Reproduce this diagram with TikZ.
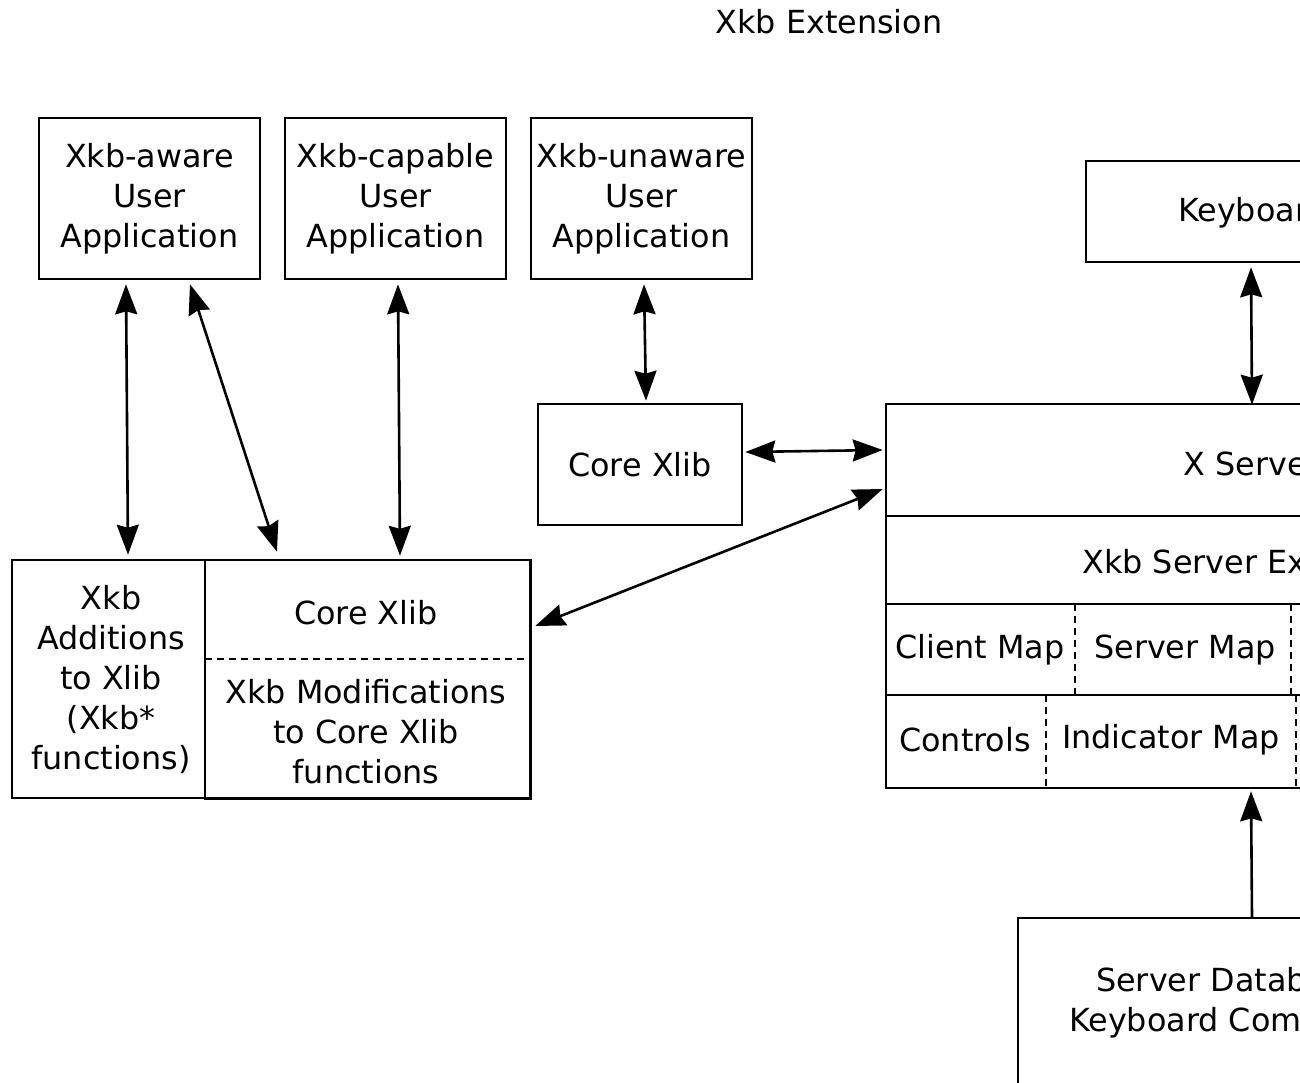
\documentclass[tikz,border=0pt]{standalone}
\usepackage{fontspec}
\setmainfont{DejaVu Sans}
\usetikzlibrary{arrows.meta}
\begin{document}
\begin{tikzpicture}[x=1pt,y=-1pt,
  lbl/.style={font=\fontsize{31.8pt}{40pt}\selectfont, inner sep=0pt, align=center},
  box/.style={draw, line width=2.6pt, inner sep=0pt, lbl},
  cell/.style={inner sep=0pt, lbl},
  solidline/.style={line width=2.6pt},
  dashline/.style={line width=2.4pt, dash pattern=on 7pt off 5pt},
  tip/.tip={Stealth[length=30pt,width=22pt,inset=3pt]},
  both/.style={line width=2.6pt, tip-tip},
  one/.style={line width=2.6pt, -tip}]

\useasboundingbox (0,0) rectangle (1300,1082);
\clip (0,0) rectangle (1300,1082);

% title
\node[lbl] (title) at (829,22) {Xkb Extension};

% client applications
\node[box, minimum width=221pt, minimum height=161pt] (aware) at (149.5,198.5) {Xkb-aware\\User\\Application};
\node[box, minimum width=221pt, minimum height=161pt] (capable) at (395.5,198.5) {Xkb-capable\\User\\Application};
\node[box, minimum width=221pt, minimum height=161pt] (unaware) at (641.5,198.5) {Xkb-unaware\\User\\Application};

% plain core library
\node[box, minimum width=204pt, minimum height=121pt] (corelib) at (640,464.5) {Core Xlib};

% extended library
\node[box, minimum width=193pt, minimum height=238pt] (additions) at (108.5,679) {};
\node[cell] (additionstext) at (111,680) {Xkb\\Additions\\to Xlib\\(Xkb*\\functions)};
\node[cell, minimum width=325pt, minimum height=99pt] (libcore) at (367.5,609.5) {};
\node[cell, minimum width=325pt, minimum height=139pt] (libmods) at (367.5,728.5) {};
\node[cell] (libcoretext) at (366,613) {Core Xlib};
\node[cell] (libmodstext) at (366,732) {Xkb Modifications\\to Core Xlib\\functions};
\draw[solidline] (libcore.north west) rectangle (libmods.south east);
\draw[dashline] (libcore.south west) -- (libcore.south east);

% keyboard
\node[box, minimum width=332pt, minimum height=101pt] (keyboard) at (1252,211.5) {};
\node[cell] (keyboardtext) at (1253,213) {Keyboard};

% server block
\node[box, minimum width=732pt, minimum height=384pt] (server) at (1252,596) {};
\node[cell] (xsrv) at (1252,464) {X Server};
\node[cell] (xext) at (1253,562) {Xkb Server Extension};
\draw[solidline] (886,516) -- (1618,516);
\draw[solidline] (886,604) -- (1618,604);
\draw[solidline] (886,695) -- (1618,695);
\draw[dashline] (1075,604) -- (1075,695);
\draw[dashline] (1291,604) -- (1291,695);
\draw[dashline] (1046,695) -- (1046,788);
\draw[dashline] (1296,695) -- (1296,788);
\node[cell] (clientmap) at (980,650) {Client Map};
\node[cell] (servermap) at (1185,650) {Server Map};
\node[cell] (controls) at (965,740) {Controls};
\node[cell] (indmap) at (1171,740) {Indicator Map};

% keyboard component database
\draw[solidline] (1018,1100) -- (1018,918) -- (1486,918) -- (1486,1100);
\coordinate (dbtop) at (1252,918);
\node[cell, anchor=base west] (dbline1) at (1096,991) {Server Database of};
\node[cell, anchor=base west] (dbline2) at (1069,1031) {Keyboard Components};

% connectors
\draw[both] ([xshift=-23.5pt,yshift=-4pt]aware.south) -- ([xshift=19.5pt,yshift=4pt]additions.north);
\draw[both] ([xshift=40.5pt,yshift=-4pt]aware.south) -- ([xshift=-90.5pt,yshift=8pt]libcore.north);
\draw[both] ([xshift=2.5pt,yshift=-4pt]capable.south) -- ([xshift=32.5pt,yshift=4pt]libcore.north);
\draw[both] ([xshift=2.5pt,yshift=-4pt]unaware.south) -- ([xshift=6pt,yshift=2pt]corelib.north);
\draw[both] ([xshift=2pt,yshift=12.5pt]corelib.east) -- ([xshift=-2pt,yshift=146pt]server.west);
\draw[both] ([xshift=5pt,yshift=-16.5pt]libcore.east) -- ([xshift=-2pt,yshift=107pt]server.west);
\draw[both] ([xshift=-1pt,yshift=-4pt]keyboard.south) -- ([yshift=-2pt]server.north);
\draw[one] (dbtop) -- ([xshift=-1pt,yshift=-2pt]server.south);
\end{tikzpicture}
\end{document}
